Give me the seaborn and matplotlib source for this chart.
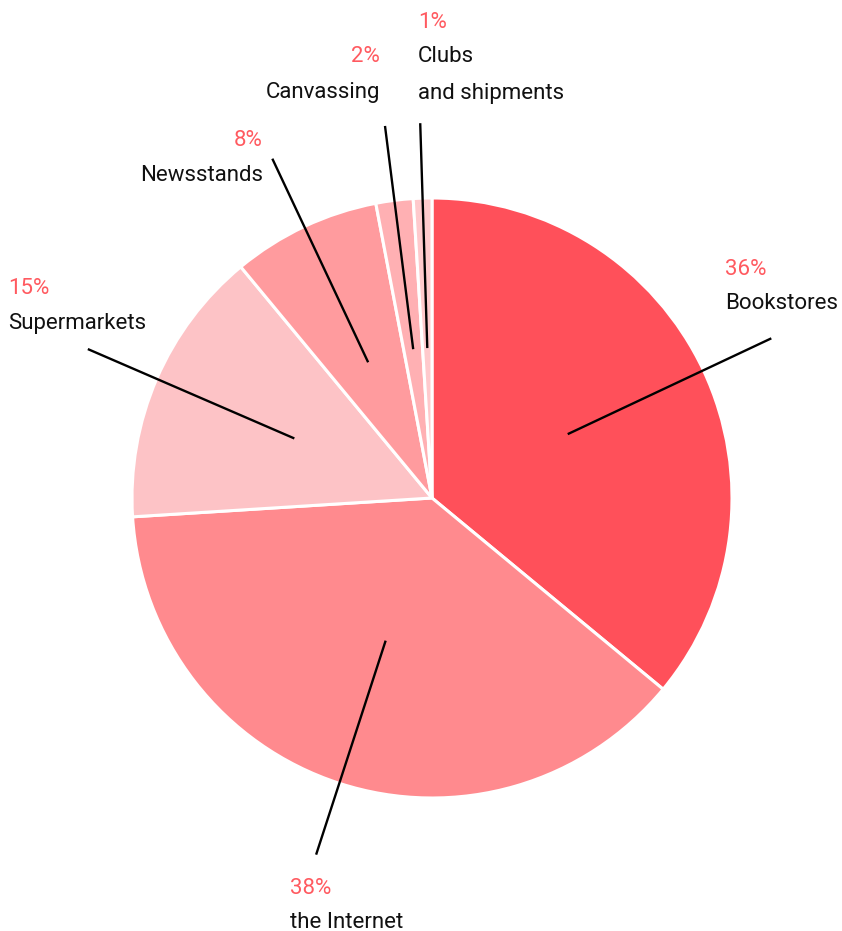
import matplotlib
matplotlib.use("Agg")
import matplotlib.pyplot as plt
import seaborn as sns
import numpy as np

sns.set_theme(style="white")
plt.rcParams['font.family'] = ['Roboto', 'DejaVu Sans']

# ---- data ----
categories = ["Bookstores", "the Internet", "Supermarkets", "Newsstands", "Canvassing", "Clubs\nand shipments"]
shares = [36, 38, 15, 8, 2, 1]
pct_labels = ["36%", "38%", "15%", "8%", "2%", "1%"]
colors = ["#FF505A", "#FF8A8E", "#FDC3C6", "#FF9B9E", "#FFB0B3", "#FFC9CC"]

# ---- layout (pixel positions of the label blocks) ----
W, H = 842, 931
CX, CY, R = 432, 498, 300
label_layout = [  # (x, pct_y, label_y, ha)
    (725, 269, 303, "left"),
    (290, 888, 922, "left"),
    (8, 288, 323, "left"),
    (263, 140, 175, "right"),
    (380, 56, 92, "right"),
    (418, 22, 75, "left"),
]

def px2d(x, y):
    return (x - CX) / R, (CY - y) / R

fig = plt.figure(figsize=(W / 100, H / 100), dpi=100)
ax = fig.add_axes([0, 0, 1, 1])
wedges, _ = ax.pie(shares, colors=colors, startangle=90, counterclock=False,
                   radius=1.0, center=(0, 0),
                   wedgeprops=dict(edgecolor="white", linewidth=2.2))
ax.set_xlim(px2d(0, 0)[0], px2d(W, 0)[0])
ax.set_ylim(px2d(0, H)[1], px2d(0, 0)[1])
ax.set_aspect("auto")
ax.axis("off")

for w, pct, cat, (lx, py, ly, ha) in zip(wedges, pct_labels, categories, label_layout):
    mid = np.deg2rad((w.theta1 + w.theta2) / 2)
    x0, y0 = 0.5 * np.cos(mid), 0.5 * np.sin(mid)
    x1, y1 = 1.25 * np.cos(mid), 1.25 * np.sin(mid)
    ax.plot([x0, x1], [y0, y1], color="black", lw=1.7, solid_capstyle="butt")
    tx, ty = px2d(lx, py)
    ax.text(tx, ty, pct, color="#FF5A60", fontsize=16, ha=ha, va="center")
    tx, ty = px2d(lx, ly)
    ax.text(tx, ty, cat, color="#111111", fontsize=16, ha=ha, va="center",
            linespacing=1.95, multialignment="left")

fig.savefig("out.png", dpi=100, facecolor="white")
